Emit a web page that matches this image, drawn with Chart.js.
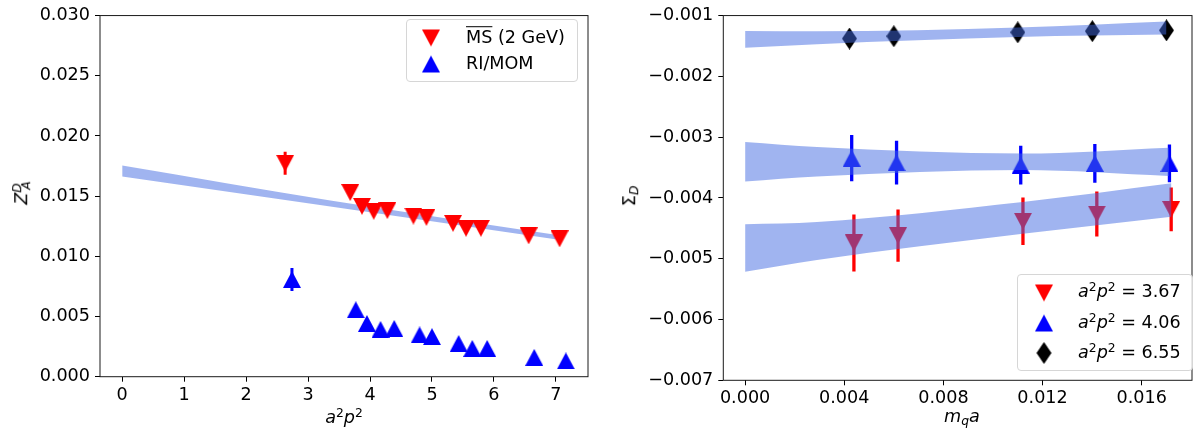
<!DOCTYPE html>
<html>
<head>
<meta charset="utf-8">
<script src="https://cdn.jsdelivr.net/npm/chart.js@4.4.1/dist/chart.umd.min.js"></script>
<style>
  html, body { margin:0; padding:0; background:#fff; }
  body { width:1202px; height:434px; position:relative; overflow:hidden; font-family:'DejaVu Sans', sans-serif; font-size:17.6px; color:#000; }
  .box { position:absolute; }
  .lab { position:absolute; white-space:nowrap; line-height:1; transform:translate(-50%,-50%); }
  .txt { position:absolute; white-space:nowrap; line-height:1; transform:translateY(-50%); }
  .sup { font-size:0.7em; position:relative; top:-0.5em; }
  .sub { font-size:0.7em; position:relative; top:0.25em; }
  .legbox { position:absolute; border:1px solid #d6d6d6; border-radius:4px; background:rgba(255,255,255,0.8); box-sizing:border-box; }
  .mk { position:absolute; transform:translate(-50%,-50%); }
</style>
</head>
<body>
<div class="box" style="left:0;top:0;width:600px;height:434px;"><canvas id="cL"></canvas></div>
<div class="box" style="left:600px;top:0;width:602px;height:434px;"><canvas id="cR"></canvas></div>

<!-- axis labels -->
<div class="lab" style="left:22px;top:193px;transform:translate(-50%,-50%) rotate(-90deg);"><i>Z</i><i class="sup">D</i><i class="sub" style="margin-left:-0.54em;">A</i></div>
<div class="lab" style="left:344px;top:418px;"><i>a</i><span class="sup">2</span><i>p</i><span class="sup">2</span></div>
<div class="lab" style="left:630px;top:196px;transform:translate(-50%,-50%) rotate(-90deg);">Σ<i class="sub">D</i></div>
<div class="lab" style="left:962px;top:417px;"><i>m</i><i class="sub">q</i><i>a</i></div>

<!-- left legend -->
<div class="legbox" style="left:406px;top:19px;width:172px;height:63px;"></div>
<div class="txt" style="left:466px;top:37.7px;"><span style="text-decoration:overline;">MS</span> (2 GeV)</div>
<div class="txt" style="left:466px;top:64.3px;">RI/MOM</div>
<!-- right legend -->
<div class="legbox" style="left:1017px;top:274px;width:176px;height:97px;"></div>
<div class="txt" style="left:1078px;top:291.7px;"><i>a</i><span class="sup">2</span><i>p</i><span class="sup">2</span> = 3.67</div>
<div class="txt" style="left:1078px;top:322.7px;"><i>a</i><span class="sup">2</span><i>p</i><span class="sup">2</span> = 4.06</div>
<div class="txt" style="left:1078px;top:353.3px;"><i>a</i><span class="sup">2</span><i>p</i><span class="sup">2</span> = 6.55</div>

<script>
// ---------------- data: left panel (Z_A^D vs a^2 p^2) ----------------
const leftMsX   = [2.63, 3.68, 3.87, 4.06, 4.28, 4.70, 4.91, 5.34, 5.55, 5.79, 6.56, 7.06];
const leftMsY   = [0.01773, 0.01530, 0.01415, 0.01374, 0.01380, 0.01334, 0.01323, 0.01274, 0.01233, 0.01233, 0.01170, 0.01145];
const leftMsErr = [0.00095, 0.0002, 0.0002, 0.0002, 0.0002, 0.0002, 0.0002, 0.0002, 0.0002, 0.0002, 0.0002, 0.0002];
const leftRiX   = [2.74, 3.77, 3.95, 4.17, 4.39, 4.80, 5.00, 5.43, 5.65, 5.89, 6.65, 7.16];
const leftRiY   = [0.00807, 0.00556, 0.00442, 0.00393, 0.00401, 0.00347, 0.00333, 0.00276, 0.00235, 0.00235, 0.00161, 0.00131];
const leftRiErr = [0.00095, 0.0002, 0.0002, 0.0002, 0.0002, 0.0002, 0.0002, 0.0002, 0.0002, 0.0002, 0.0002, 0.0002];
const leftBandX     = [0, 3.36, 7.02];
const leftBandUpper = [0.01754, 0.01464, 0.01178];
const leftBandLower = [0.01664, 0.01413, 0.01140];
const leftXTicks = [0, 1, 2, 3, 4, 5, 6, 7];
const leftYTicks = [0, 0.005, 0.010, 0.015, 0.020, 0.025, 0.030];

// ---------------- data: right panel (Sigma_D vs m_q a) ----------------
const r367X   = [0.00439, 0.00617, 0.01121, 0.01419, 0.01719];
const r367Y   = [-0.004741, -0.004621, -0.004384, -0.004265, -0.004190];
const r367Err = [0.00047, 0.00043, 0.00039, 0.00037, 0.00036];
const r406X   = [0.00430, 0.00611, 0.01112, 0.01411, 0.01712];
const r406Y   = [-0.003346, -0.003421, -0.003460, -0.003432, -0.003432];
const r406Err = [0.00038, 0.00036, 0.00032, 0.00032, 0.00031];
const r655X   = [0.00421, 0.00600, 0.01100, 0.01401, 0.01700];
const r655Y   = [-0.001378, -0.001340, -0.001276, -0.001257, -0.001243];
const r655Err = [0.00004, 0.00004, 0.00004, 0.00004, 0.00004];
const band367X = [0, 0.0029, 0.0112, 0.0172];
const band367Upper = [-0.004432, -0.004394, -0.004065, -0.003757];
const band367Lower = [-0.005216, -0.005020, -0.004590, -0.004308];
const band406X = [0, 0.0029, 0.0112, 0.0171];
const band406Upper = [-0.003080, -0.003162, -0.003270, -0.003173];
const band406Lower = [-0.003730, -0.003649, -0.003541, -0.003638];
const band655X = [0, 0.0029, 0.0110, 0.0170];
const band655Upper = [-0.001254, -0.001260, -0.001195, -0.001097];
const band655Lower = [-0.001530, -0.001470, -0.001351, -0.001313];
const rightXTicks = [0, 0.004, 0.008, 0.012, 0.016];
const rightYTicks = [-0.007, -0.006, -0.005, -0.004, -0.003, -0.002, -0.001];

// ---------------- helpers ----------------
const RED = '#ff0000', BLUE = '#0000ff', BLACK = '#000000';
const BAND = 'rgba(65,105,225,0.5)';
const FONT = {family: "'DejaVu Sans', sans-serif", size: 17.6};

function marker(shape, color) {
  const c = document.createElement('canvas');
  let w, h;
  if (shape === 'diamond') { w = 15; h = 22; } else { w = 18; h = 17; }
  c.width = w; c.height = h;
  const g = c.getContext('2d');
  g.fillStyle = color;
  g.beginPath();
  if (shape === 'down') { g.moveTo(0, 0); g.lineTo(w, 0); g.lineTo(w / 2, h); }
  else if (shape === 'up') { g.moveTo(w / 2, 0); g.lineTo(w, h); g.lineTo(0, h); }
  else { g.moveTo(w / 2, 0); g.lineTo(w, h / 2); g.lineTo(w / 2, h); g.lineTo(0, h / 2); }
  g.closePath(); g.fill();
  return c;
}
function pts(xs, ys) { return xs.map((x, i) => ({x: x, y: ys[i]})); }
function fixedTicks(arr) { return function (s) { s.ticks = arr.map(v => ({value: v})); }; }
function fmt3(v) { return (v < 0 ? '\u2212' : '') + Math.abs(v).toFixed(3); }

const spines = {
  id: 'spines',
  afterDatasetsDraw(chart) {
    const {ctx, chartArea: a} = chart;
    ctx.save(); ctx.strokeStyle = '#1a1a1a'; ctx.lineWidth = 1;
    ctx.strokeRect(a.left, a.top, a.right - a.left, a.bottom - a.top);
    ctx.restore();
  }
};
const errorbars = {
  id: 'errorbars',
  beforeDatasetsDraw(chart, args, opts) {
    const {ctx} = chart, xs = chart.scales.x, ys = chart.scales.y;
    ctx.save();
    ctx.beginPath(); const a = chart.chartArea; ctx.rect(a.left, a.top, a.right - a.left, a.bottom - a.top); ctx.clip();
    (opts.series || []).forEach(s => {
      ctx.strokeStyle = s.color; ctx.lineWidth = s.width;
      s.x.forEach((x, i) => {
        const px = xs.getPixelForValue(x);
        ctx.beginPath();
        ctx.moveTo(px, ys.getPixelForValue(s.y[i] - s.err[i]));
        ctx.lineTo(px, ys.getPixelForValue(s.y[i] + s.err[i]));
        ctx.stroke();
      });
    });
    ctx.restore();
  }
};

function axisOpts(min, max, ticksArr, cb, fitFn, pad) {
  return {
    type: 'linear', min: min, max: max,
    afterBuildTicks: fixedTicks(ticksArr),
    afterFit: fitFn,
    border: {display: false},
    grid: {display: true, drawOnChartArea: false, drawTicks: true, tickLength: 5, tickColor: '#000', tickWidth: 1},
    ticks: {color: '#000', font: FONT, padding: pad, callback: cb, maxRotation: 0, autoSkip: false}
  };
}
function pointDs(xs, ys, img, order) {
  return {data: pts(xs, ys), pointStyle: img, pointRadius: 9, pointHoverRadius: 9, showLine: false, order: order};
}
function bandDs(xs, up, lo, order) {
  return [
    {data: pts(xs, up), showLine: true, pointRadius: 0, borderColor: 'transparent', borderWidth: 0, backgroundColor: BAND, fill: '+1', cubicInterpolationMode: 'monotone', order: order},
    {data: pts(xs, lo), showLine: true, pointRadius: 0, borderColor: 'transparent', borderWidth: 0, backgroundColor: BAND, fill: false, cubicInterpolationMode: 'monotone', order: order}
  ];
}

Chart.defaults.animation = false;

new Chart(document.getElementById('cL'), {
  type: 'scatter',
  data: {datasets: [
    pointDs(leftMsX, leftMsY, marker('down', RED), 0),
    pointDs(leftRiX, leftRiY, marker('up', BLUE), 0),
    ...bandDs(leftBandX, leftBandUpper, leftBandLower, 5)
  ]},
  options: {
    responsive: true, maintainAspectRatio: false, devicePixelRatio: 1,
    layout: {padding: {left: 0, top: 10, right: 12, bottom: 0}},
    plugins: {legend: {display: false}, tooltip: {enabled: false},
      errorbars: {series: [
        {x: leftMsX, y: leftMsY, err: leftMsErr, color: RED, width: 3},
        {x: leftRiX, y: leftRiY, err: leftRiErr, color: BLUE, width: 3}
      ]}},
    scales: {
      x: axisOpts(-0.358, 7.518, leftXTicks, v => String(v), s => { s.height = 57.3; }, 3),
      y: axisOpts(0, 0.030, leftYTicks, v => fmt3(v), s => { s.width = 100; }, 5)
    }
  },
  plugins: [errorbars, spines]
});

new Chart(document.getElementById('cR'), {
  type: 'scatter',
  data: {datasets: [
    ...bandDs(band367X, band367Upper, band367Lower, 0),
    ...bandDs(band406X, band406Upper, band406Lower, 0),
    ...bandDs(band655X, band655Upper, band655Lower, 0),
    pointDs(r367X, r367Y, marker('down', RED), 5),
    pointDs(r406X, r406Y, marker('up', BLUE), 5),
    pointDs(r655X, r655Y, marker('diamond', BLACK), 5)
  ]},
  options: {
    responsive: true, maintainAspectRatio: false, devicePixelRatio: 1,
    layout: {padding: {left: 0, top: 10, right: 1, bottom: 0}},
    plugins: {legend: {display: false}, tooltip: {enabled: false},
      errorbars: {series: [
        {x: r367X, y: r367Y, err: r367Err, color: RED, width: 3.3},
        {x: r406X, y: r406Y, err: r406Err, color: BLUE, width: 3.3},
        {x: r655X, y: r655Y, err: r655Err, color: BLACK, width: 3.3}
      ]}},
    scales: {
      x: axisOpts(-0.00088, 0.01803, rightXTicks, v => fmt3(v), s => { s.height = 53.7; }, 3),
      y: axisOpts(-0.007, -0.001, rightYTicks, v => fmt3(v), s => { s.width = 123.3; }, 5)
    }
  },
  plugins: [errorbars, spines]
});

// legend markers (HTML)
function placeMarker(shape, color, x, y) {
  const c = marker(shape, color); c.className = 'mk';
  c.style.left = x + 'px'; c.style.top = y + 'px';
  document.body.appendChild(c);
}
placeMarker('down', RED, 431.3, 38);
placeMarker('up', BLUE, 431.3, 64.2);
placeMarker('down', RED, 1043.5, 292.5);
placeMarker('up', BLUE, 1043.5, 322.5);
placeMarker('diamond', BLACK, 1043.5, 353);
</script>
</body>
</html>
